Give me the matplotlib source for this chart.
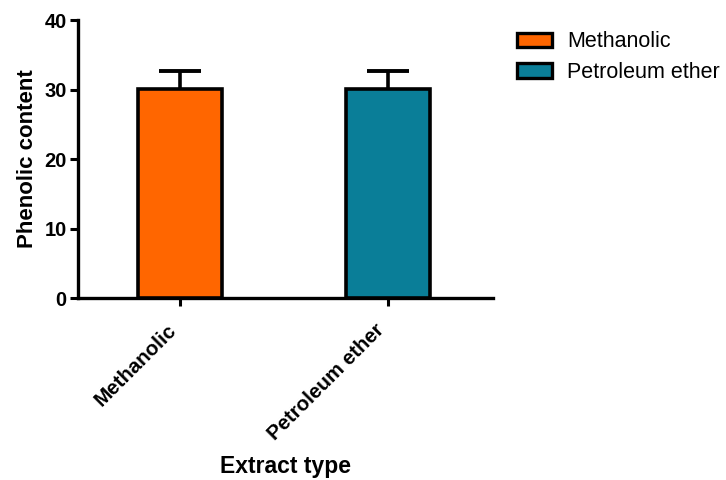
import matplotlib
matplotlib.use('Agg')
from matplotlib import pyplot as pl
from matplotlib.patches import Patch

# Data
extracts = ['Methanolic', 'Petroleum ether']
phenolic = [30.1, 30.1]
sem = [2.6, 2.6]
barcolors = ['#FF6600', '#0A7E98']

pl.rcParams['font.family'] = ['Liberation Sans', 'DejaVu Sans']

fig = pl.figure(figsize=(7.26, 4.8), dpi=100)
ax = fig.add_axes([0.1074, 0.379, 0.572, 0.579])

pos = list(range(len(extracts)))
ax.bar(pos, phenolic, width=0.4, color=barcolors, edgecolor='black',
       linewidth=2.6, zorder=3)

# Upper error bars only, hide the lower cap
eb = ax.errorbar(pos, phenolic, yerr=[[0]*len(sem), sem], fmt='none',
                 ecolor='black', elinewidth=2.6, capsize=15, capthick=2.8,
                 zorder=2)
eb[1][0].set_visible(False)

ax.set_xlim(-0.49, 1.505)
ax.set_ylim(0, 40)
ax.set_yticks([0, 10, 20, 30, 40])
ax.set_xticks(pos)
ax.set_xticklabels(extracts, rotation=45, ha='right', va='bottom',
                   rotation_mode='anchor', fontsize=14.8, fontweight='bold')
for lbl in ax.get_yticklabels():
    lbl.set_fontsize(14.5)
    lbl.set_fontweight('bold')

ax.spines['top'].set_visible(False)
ax.spines['right'].set_visible(False)
ax.spines['left'].set_linewidth(2.4)
ax.spines['bottom'].set_linewidth(2.4)
ax.tick_params(axis='both', direction='out', length=6, width=2.2)
ax.tick_params(axis='y', pad=2)
ax.tick_params(axis='x', pad=20)

ax.set_ylabel('Phenolic content', fontsize=16, fontweight='bold', labelpad=5)
ax.set_xlabel('Extract type', fontsize=16.5, fontweight='bold')
ax.xaxis.set_label_coords(0.5, -0.565)

handles = [Patch(facecolor=c, edgecolor='black', linewidth=2.4, label=n)
           for c, n in zip(barcolors, extracts)]
fig.legend(handles=handles, loc='upper left', bbox_to_anchor=(0.6855, 0.975),
           frameon=False, fontsize=15.5, handlelength=1.63, handleheight=0.65,
           labelspacing=0.45, handletextpad=0.7)

fig.savefig('out.png', dpi=100)
